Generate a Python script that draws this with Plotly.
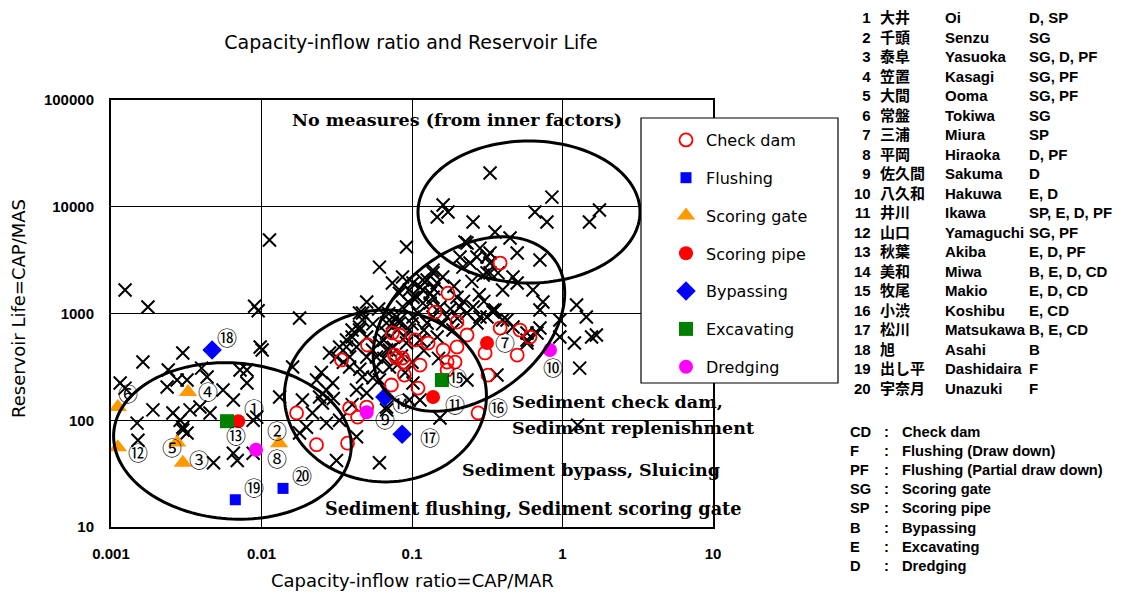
import numpy as np
import plotly.graph_objects as go

# ---------------- data ----------------
x_tickvals = [0.001, 0.01, 0.1, 1, 10]
x_ticktext = ["0.001", "0.01", "0.1", "1", "10"]
y_tickvals = [10, 100, 1000, 10000, 100000]
y_ticktext = ["10", "100", "1000", "10000", "100000"]

chart_title = "Capacity-inflow ratio and Reservoir Life"
x_title = "Capacity-inflow ratio=CAP/MAR"
y_title = "Reservoir Life=CAP/MAS"

dam_no = list(range(1, 21))
dam_jp = ["大井", "千頭", "泰阜", "笠置", "大間", "常盤", "三浦", "平岡", "佐久間", "八久和",
          "井川", "山口", "秋葉", "美和", "牧尾", "小渋", "松川", "旭", "出し平", "宇奈月"]
dam_en = ["Oi", "Senzu", "Yasuoka", "Kasagi", "Ooma", "Tokiwa", "Miura", "Hiraoka", "Sakuma", "Hakuwa",
          "Ikawa", "Yamaguchi", "Akiba", "Miwa", "Makio", "Koshibu", "Matsukawa", "Asahi", "Dashidaira", "Unazuki"]
dam_measures = ["D, SP", "SG", "SG, D, PF", "SG, PF", "SG, PF", "SG", "SP", "D, PF", "D", "E, D",
                "SP, E, D, PF", "SG, PF", "E, D, PF", "B, E, D, CD", "E, D, CD", "E, CD", "B, E, CD", "B", "F", "F"]
dam_x = [0.0070, 0.0131, 0.0030, 0.00325, 0.00275, 0.00111, 0.315, 0.0092, 0.050, 0.826,
         0.138, 0.00111, 0.0059, 0.066, 0.158, 0.275, 0.086, 0.0047, 0.0067, 0.0139]
dam_y = [98, 61, 40, 184, 62, 133, 530, 53, 119, 455,
         165, 56, 98, 165, 238, 117, 74, 455, 18, 23]
dam_type = ["Scoring pipe", "Scoring gate", "Scoring gate", "Scoring gate", "Scoring gate", "Scoring gate",
            "Scoring pipe", "Dredging", "Dredging", "Dredging", "Scoring pipe", "Scoring gate", "Excavating",
            "Bypassing", "Excavating", "Check dam", "Bypassing", "Bypassing", "Flushing", "Flushing"]

checkdam_x = [0.0171, 0.0232, 0.034, 0.0373, 0.0385, 0.0435, 0.050, 0.0506, 0.0741, 0.0825,
              0.105, 0.0788, 0.089, 0.089, 0.073, 0.1096, 0.128, 0.161, 0.199, 0.171,
              0.193, 0.171, 0.113, 0.142, 0.1735, 0.199, 0.232, 0.385, 0.385, 0.522,
              0.608, 0.50, 0.306, 0.32, 0.0764, 0.0865]
checkdam_y = [117, 59, 367, 61, 130, 107, 133, 507, 657, 629,
              565, 383, 351, 265, 214, 200, 529, 455, 486, 351,
              351, 296, 329, 1030, 1550, 832, 629, 2970, 731, 700,
              602, 408, 427, 265, 409, 383]

other_x = [0.00124, 0.00176, 0.0090, 0.0095, 0.0113, 0.00163, 0.0030, 0.0024, 0.00115, 0.00149,
           0.0019, 0.00151, 0.00236, 0.00275, 0.0032, 0.00258, 0.00288, 0.0030, 0.0032, 0.00335,
           0.0039, 0.00455, 0.00555, 0.0065, 0.0072, 0.0080, 0.0080, 0.0098, 0.0101, 0.0088,
           0.0093, 0.0065, 0.0069, 0.0048, 0.0088, 0.00435, 0.0040, 0.0030, 0.00124,
           0.0179, 0.0132, 0.0161, 0.0187, 0.0218, 0.0199, 0.0179, 0.0243, 0.027, 0.0297,
           0.0232, 0.0254, 0.027, 0.033, 0.0315, 0.0428, 0.0608, 0.0315, 0.0367, 0.040,
           0.0448, 0.0469, 0.050, 0.0546, 0.0581, 0.0385, 0.0469, 0.0428, 0.050, 0.0608,
           0.0708, 0.0677, 0.0825, 0.0919, 0.1015, 0.096, 0.1015, 0.0677, 0.050, 0.0608,
           0.0919, 0.0865, 0.1015, 0.118, 0.108, 0.096, 0.0448, 0.0469, 0.040, 0.0448,
           0.0367, 0.033, 0.0428, 0.050, 0.0608, 0.0677, 0.0741, 0.0825, 0.0865, 0.118,
           0.138, 0.126, 0.138, 0.147, 0.0283, 0.0385, 0.0581, 0.0708, 0.0741, 0.113,
           0.0825, 0.132, 0.1535, 0.199, 0.2085, 0.2545, 0.283, 0.356, 0.40, 0.0788,
           0.096, 0.0677, 0.126, 0.138, 0.171, 0.232, 0.27, 0.187, 0.147, 0.113,
           0.469, 0.581, 0.708, 0.677, 0.232, 0.27, 0.243, 0.33, 0.50, 0.708,
           0.40, 0.636, 0.741, 0.708, 0.297, 0.33, 0.218, 0.138, 0.118, 0.1015,
           0.33, 0.85, 0.161, 0.1735, 0.147, 0.2545, 0.656, 0.788, 1.76, 1.51,
           0.356, 0.448, 0.225, 0.283, 0.50, 0.373, 0.096, 0.132, 0.315, 0.2085,
           1.24, 1.44, 1.56, 1.68, 1.30, 1.20, 0.96, 0.96, 0.581, 0.345,
           0.367, 0.232, 0.1535, 1.26, 0.113, 0.0677, 0.33, 0.315, 0.469, 0.428,
           0.315, 0.345, 0.581,
           0.06, 0.07, 0.08, 0.09, 0.055, 0.065, 0.075, 0.085, 0.10, 0.11,
           0.12, 0.16, 0.18, 0.20, 0.22, 0.14, 0.16, 0.19, 0.25, 0.28,
           0.30, 0.035, 0.045, 0.055, 0.065, 0.08, 0.09, 0.10, 0.12, 0.15,
           0.025, 0.03, 0.04]
other_y = [1660, 1150, 1170, 1060, 4880, 351, 427, 296, 223, 94,
           125, 65, 205, 238, 238, 117, 100, 86, 76, 125,
           133, 117, 192, 155, 296, 296, 223, 486, 455, 100,
           107, 49, 42, 40, 49, 254, 308, 81, 200,
           907, 165, 315, 155, 117, 86, 76, 165, 192, 223,
           238, 145, 94, 100, 42, 70, 40, 391, 486, 602,
           747, 1010, 391, 455, 315, 315, 254, 192, 180, 238,
           315, 455, 815, 529, 927, 155, 223, 133, 1280, 2720,
           4200, 2200, 1930, 1660, 1420, 1250, 1010, 869, 700, 700,
           565, 486, 486, 602, 529, 657, 815, 869, 1150, 1250,
           1420, 2060, 2400, 1930, 427, 391, 391, 455, 1930, 1770,
           1550, 1250, 1150, 1420, 1150, 1150, 927, 1080, 869, 927,
           700, 815, 815, 927, 927, 1010, 815, 700, 602, 565,
           747, 565, 731, 657, 4570, 3380, 2970, 2970, 3690, 3170,
           1660, 1660, 1280, 1080, 2290, 2400, 2720, 2550, 2060, 1420,
           20700, 12300, 10400, 8930, 8010, 7200, 8930, 7200, 9320, 7200,
           5800, 5100, 4670, 4100, 1930, 2400, 1660, 1550, 3380, 3380,
           1200, 927, 602, 630, 308, 529, 869, 602, 529, 1030,
           265, 238, 105, 90, 155, 125, 3690, 2400, 2200, 869,
           927, 1080, 657,
           1100, 1000, 700, 600, 800, 560, 480, 400, 800, 1000,
           700, 800, 1100, 900, 1300, 1700, 2200, 1800, 2000, 1500,
           1300, 350, 300, 250, 380, 330, 280, 350, 450, 380,
           280, 160, 140]

abbr = ["CD", "F", "PF", "SG", "SP", "B", "E", "D"]
abbr_desc = ["Check dam", "Flushing (Draw down)", "Flushing (Partial draw down)", "Scoring gate",
             "Scoring pipe", "Bypassing", "Excavating", "Dredging"]

series_names = ["Check dam", "Flushing", "Scoring gate", "Scoring pipe", "Bypassing", "Excavating", "Dredging"]

region_texts = ["No measures (from inner factors)", "Sediment check dam,", "Sediment replenishment",
                "Sediment bypass, Sluicing", "Sediment flushing, Sediment scoring gate"]

# ---------------- layout geometry ----------------
W, H = 1127, 598
ML, MR, MT, MB = 111, 414, 100, 71
PW, PH = W - ML - MR, H - MT - MB


def pxx(px):
    return (px - ML) / PW


def pxy(py):
    return (H - MB - py) / PH


SANS = "DejaVu Sans, Liberation Sans, Noto Sans CJK JP, sans-serif"
TSANS = "Liberation Sans, Arial, Noto Sans CJK JP, sans-serif"
JP = "Liberation Sans, Noto Sans CJK JP, sans-serif"
SERIF = "DejaVu Serif, serif"

styles = {
    "Check dam": dict(symbol="circle-open", color="#FF0000", size=13, line=dict(color="#FF0000", width=1.8)),
    "Flushing": dict(symbol="square", color="#0000FF", size=11, line=dict(width=0)),
    "Scoring gate": dict(symbol="triangle-up", color="#FF9900", size=16, line=dict(width=0)),
    "Scoring pipe": dict(symbol="circle", color="#FF0000", size=14, line=dict(width=0)),
    "Bypassing": dict(symbol="diamond", color="#0000FF", size=15, line=dict(width=0)),
    "Excavating": dict(symbol="square", color="#008000", size=14, line=dict(width=0)),
    "Dredging": dict(symbol="circle", color="#FF00FF", size=14, line=dict(width=0)),
}

# label offsets (px right, px down) of circled numbers from their dam
label_off = [(16, -13), (-2, -13), (16, -3), (20, 0), (-5, 5), (10, -14), (18, 0), (21, 9), (18, 7), (3, 17),
             (22, 7), (20, 5), (9, 14), (17, 6), (15, -3), (20, -5), (28, 3), (15, -13), (19, -12), (19, -13)]

# ellipses: centre (data), semi axes (px), rotation (deg, counter-clockwise)
ellipses = [
    dict(cx=0.00641, cy=64, rx=119, ry=78, ang=-4),
    dict(cx=0.0666, cy=169, rx=101, ry=86, ang=0),
    dict(cx=0.239, cy=797, rx=107, ry=73, ang=37.6),
    dict(cx=0.599, cy=8930, rx=111, ry=71, ang=0),
]

region_pos = [(290, 120), (510, 402), (510, 428), (460, 470), (323, 508)]

fig = go.Figure()

fig.add_trace(go.Scatter(
    x=other_x, y=other_y, mode="markers", showlegend=False, hoverinfo="skip",
    marker=dict(symbol="x-thin", size=13, color="black", line=dict(color="black", width=2)),
))

for name in series_names:
    xs, ys = [], []
    if name == "Check dam":
        xs += checkdam_x
        ys += checkdam_y
    for xv, yv, t in zip(dam_x, dam_y, dam_type):
        if t == name:
            xs.append(xv)
            ys.append(yv)
    fig.add_trace(go.Scatter(
        x=xs, y=ys, mode="markers", name=name, legendgroup=name, hoverinfo="skip",
        marker=styles[name],
    ))

shapes = []
t = np.linspace(0, 2 * np.pi, 145)
for e in ellipses:
    th = np.radians(e["ang"])
    dxp = e["rx"] * np.cos(t) * np.cos(th) - e["ry"] * np.sin(t) * np.sin(th)
    dyp = -(e["rx"] * np.cos(t) * np.sin(th) + e["ry"] * np.sin(t) * np.cos(th))
    lx = np.log10(e["cx"]) + dxp / (PW / 4)
    ly = np.log10(e["cy"]) - dyp / (PH / 4)
    pts = [f"{10 ** a:.6g},{10 ** b:.6g}" for a, b in zip(lx, ly)]
    path = "M" + " L".join(pts) + " Z"
    shapes.append(dict(type="path", xref="x", yref="y", path=path,
                       line=dict(color="black", width=3), layer="above"))

# legend box
shapes.append(dict(type="rect", xref="paper", yref="paper", x0=pxx(641), x1=pxx(838),
                   y0=pxy(383), y1=pxy(118), line=dict(color="black", width=1.2),
                   fillcolor="white", layer="above"))

annotations = []
# circled numbers
for i, (xv, yv) in enumerate(zip(dam_x, dam_y)):
    dx, dy = label_off[i]
    annotations.append(dict(x=np.log10(xv), y=np.log10(yv), xref="x", yref="y",
                            text=chr(0x2460 + i), showarrow=False, xshift=dx, yshift=-dy, borderpad=0,
                            font=dict(family="Noto Sans CJK JP", size=20, color="black")))

region_sizes = [17.5, 17.5, 17.5, 17.5, 17.7]
for txt, (px, py), fs in zip(region_texts, region_pos, region_sizes):
    annotations.append(dict(x=pxx(px), y=pxy(py), xref="paper", yref="paper", text=f"<b>{txt}</b>",
                            showarrow=False, xanchor="left", yanchor="middle",
                            font=dict(family=SERIF, size=fs, color="black")))

# axis titles
annotations.append(dict(x=pxx(412), y=pxy(580), xref="paper", yref="paper", text=x_title, showarrow=False,
                        xanchor="center", yanchor="middle", font=dict(family=SANS, size=18, color="black")))
annotations.append(dict(x=pxx(18), y=pxy(308), xref="paper", yref="paper", text=y_title, showarrow=False,
                        textangle=-90, xanchor="center", yanchor="middle",
                        font=dict(family=SANS, size=18, color="black")))

# dam table (one multi-line text per column)
tfont = dict(family=JP, size=15, color="black")
t1_center = 18 + 19 * 19.5 / 2
cols = [
    ([str(n) for n in dam_no], 873, "right"),
    (dam_jp, 878, "left"),
    (dam_en, 943, "left"),
    (dam_measures, 1027, "left"),
]
for vals, px, anchor in cols:
    annotations.append(dict(x=pxx(px), y=pxy(t1_center), xref="paper", yref="paper",
                            text="<br>".join(f"<b>{v}</b>" for v in vals), showarrow=False,
                            xanchor=anchor, align=anchor, yanchor="middle", font=tfont))

t2font = dict(family=JP, size=14.7, color="black")
t2_center = 432.5 + 7 * (14.7 * 1.3) / 2
cols2 = [
    (abbr, 848, "left"),
    ([":"] * len(abbr), 886, "center"),
    (abbr_desc, 900, "left"),
]
for vals, px, anchor in cols2:
    annotations.append(dict(x=pxx(px), y=pxy(t2_center), xref="paper", yref="paper",
                            text="<br>".join(f"<b>{v}</b>" for v in vals), showarrow=False,
                            xanchor=anchor, align=anchor, yanchor="middle", font=t2font))

axis_common = dict(type="log", showline=True, mirror=True, linecolor="black", linewidth=2,
                   showgrid=True, gridcolor="black", gridwidth=1, zeroline=False, ticks="",
                   tickfont=dict(family=TSANS, size=15, color="black", weight="bold"))

fig.update_layout(
    width=W, height=H, margin=dict(l=ML, r=MR, t=MT, b=MB),
    paper_bgcolor="white", plot_bgcolor="white",
    title=dict(text=chart_title, x=411 / W, y=1 - 42 / H, xanchor="center", yanchor="middle",
               font=dict(family=SANS, size=19, color="black")),
    xaxis=dict(range=[-3, 1], tickvals=x_tickvals, ticktext=x_ticktext, ticklabelstandoff=12, **axis_common),
    yaxis=dict(range=[1, 5], tickvals=y_tickvals, ticktext=y_ticktext, ticklabelstandoff=12, **axis_common),
    legend=dict(x=pxx(666), y=pxy(123), xanchor="left", yanchor="top", bgcolor="rgba(0,0,0,0)",
                borderwidth=0, font=dict(family=SANS, size=16, color="black"), tracegroupgap=14),
    shapes=shapes, annotations=annotations, hovermode=False,
)

fig.write_html("out.html", config={"displayModeBar": False},
               post_script="document.body.style.margin='0px';")
